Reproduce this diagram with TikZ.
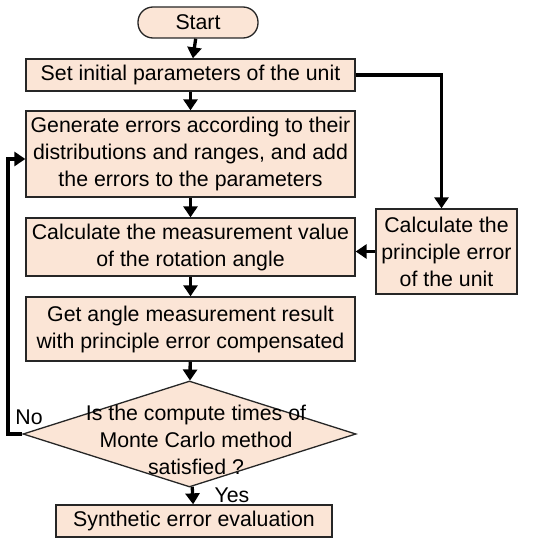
\documentclass[tikz,border=0pt]{standalone}
\usepackage{fontspec}
\setmainfont{Liberation Sans}
\usetikzlibrary{shapes.geometric,arrows.meta}
\definecolor{boxfill}{HTML}{FBE5D6}
\begin{document}
\begin{tikzpicture}[x=1pt,y=-1pt,
  box/.style={draw=black!85,line width=1.3pt,fill=boxfill,align=center,inner sep=0pt,font=\fontsize{21.3}{27}\selectfont},
  flow/.style={line width=3.3pt,-{Triangle[length=11pt,width=14pt]}},
  lbl/.style={font=\fontsize{21.3}{24}\selectfont,inner sep=0pt}]
\useasboundingbox (0,0) rectangle (550,543);

\node[box,rounded corners=15pt,minimum width=120pt,minimum height=31pt] (start) at (198,22.5) {Start};
\node[box,minimum width=329pt,minimum height=32pt] (init) at (190.5,75) {Set initial parameters of the unit};
\node[box,minimum width=329pt,minimum height=86pt] (gen) at (190.5,154) {Generate errors according to their\\distributions and ranges, and add\\the errors to the parameters};
\node[box,minimum width=329pt,minimum height=58pt] (calc) at (190.5,247) {Calculate the measurement value\\of the rotation angle};
\node[box,minimum width=141pt,minimum height=85pt] (prin) at (446.5,251.5) {Calculate the\\principle error\\of the unit};
\node[box,minimum width=329pt,minimum height=64pt] (res) at (190.5,329) {Get angle measurement result\\with principle error compensated};
\node[box,diamond,minimum width=333pt,minimum height=106pt] (judge) at (189.5,434) {};
\node[lbl,align=center,font=\fontsize{21.3}{27}\selectfont] (judgetxt) at (196,440) {Is the compute times of\\Monte Carlo method\\satisfied ?};
\node[box,minimum width=276pt,minimum height=32pt] (eval) at (194,521) {Synthetic error evaluation};

\coordinate (back) at (8,159);

\draw[flow] (start) -- (init);
\draw[flow] (init) -- (gen);
\draw[flow] (gen) -- (calc);
\draw[flow] (calc) -- (res);
\draw[flow] (res) -- (judge);
\draw[flow] (judge) -- (eval);
\draw[flow] (init.east) -| ([xshift=-5pt]prin.north);
\draw[flow] (prin.west) -- (prin.west -| calc.east);
\draw[flow] (judge.west) -| (back) -- (back -| gen.west);

\node[lbl] (no) at (29,417) {No};
\node[lbl] (yes) at (232,495) {Yes};
\end{tikzpicture}
\end{document}
